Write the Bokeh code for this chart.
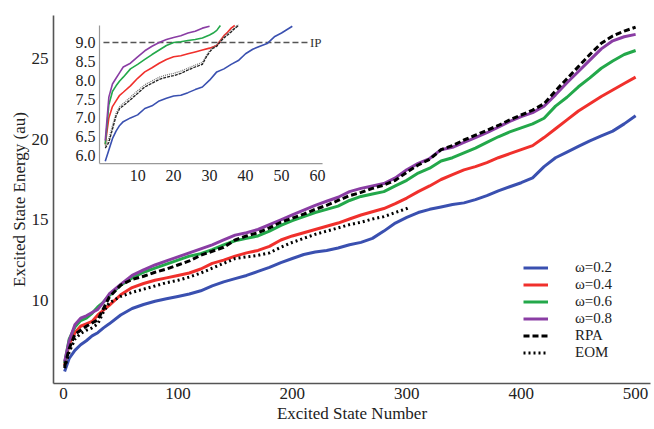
from bokeh.plotting import figure
from bokeh.models import Range1d, FixedTicker, Legend, LegendItem
from bokeh.core.properties import value
from bokeh.embed import file_html
from bokeh.resources import INLINE

# ---------------- main panel data ----------------
state = [1, 5, 10, 15, 20, 25, 30, 35, 40, 50, 60, 70, 80, 90, 100, 110, 120, 130, 140,
         150, 160, 170, 180, 190, 200, 210, 220, 230, 240, 250, 260, 270, 280, 290, 300,
         310, 320, 330, 340, 350, 360, 370, 380, 390, 400, 410, 420, 430, 440, 450, 460,
         470, 480, 490, 500]
w02 = [5.6, 6.4, 6.9, 7.25, 7.5, 7.8, 8.0, 8.3, 8.55, 9.1, 9.5, 9.75, 9.95, 10.1, 10.25,
       10.4, 10.6, 10.9, 11.15, 11.35, 11.55, 11.8, 12.05, 12.35, 12.6, 12.85, 13.0, 13.1,
       13.25, 13.45, 13.6, 13.85, 14.3, 14.8, 15.15, 15.45, 15.65, 15.8, 15.95, 16.05, 16.25,
       16.5, 16.8, 17.05, 17.3, 17.6, 18.3, 18.85, 19.2, 19.55, 19.9, 20.2, 20.5, 20.95, 21.45]
w04 = [6.0, 7.3, 8.0, 8.4, 8.55, 8.7, 9.1, 9.4, 9.7, 10.35, 10.8, 11.05, 11.25, 11.4, 11.55,
       11.7, 11.95, 12.3, 12.5, 12.75, 12.95, 13.1, 13.35, 13.75, 14.0, 14.2, 14.4, 14.6,
       14.8, 15.05, 15.3, 15.5, 15.7, 16.0, 16.35, 16.75, 17.1, 17.5, 17.8, 18.1, 18.3,
       18.55, 18.85, 19.1, 19.35, 19.6, 20.1, 20.65, 21.2, 21.75, 22.2, 22.65, 23.05, 23.45, 23.85]
w06 = [6.1, 7.6, 8.35, 8.75, 8.9, 9.2, 9.6, 9.9, 10.3, 10.95, 11.4, 11.75, 12.0, 12.25, 12.5,
       12.75, 12.9, 13.15, 13.45, 13.7, 13.85, 14.0, 14.3, 14.65, 14.95, 15.2, 15.45, 15.65,
       15.85, 16.2, 16.45, 16.6, 16.75, 17.1, 17.45, 17.9, 18.2, 18.65, 18.85, 19.15, 19.45,
       19.8, 20.15, 20.45, 20.7, 20.95, 21.3, 22.05, 22.6, 23.25, 23.8, 24.4, 24.85, 25.25, 25.5]
w08 = [6.2, 7.5, 8.5, 8.9, 9.05, 9.25, 9.45, 9.9, 10.4, 11.0, 11.55, 11.9, 12.2, 12.45, 12.7,
       12.95, 13.2, 13.45, 13.75, 14.05, 14.2, 14.4, 14.7, 15.0, 15.3, 15.6, 15.9, 16.15,
       16.4, 16.75, 16.95, 17.1, 17.25, 17.6, 18.1, 18.5, 18.8, 19.35, 19.5, 19.8, 20.1,
       20.4, 20.75, 21.1, 21.4, 21.65, 22.05, 22.75, 23.5, 24.2, 24.9, 25.6, 26.1, 26.35, 26.5]
rpa = [5.9, 7.0, 7.9, 8.15, 8.4, 8.6, 8.8, 9.5, 10.2, 10.95, 11.3, 11.5, 11.75, 11.95, 12.2,
       12.45, 12.8, 13.05, 13.3, 13.75, 14.0, 14.2, 14.5, 14.85, 15.1, 15.35, 15.65, 15.9,
       16.2, 16.5, 16.7, 16.95, 17.15, 17.45, 17.95, 18.4, 18.75, 19.35, 19.6, 19.95, 20.25,
       20.55, 20.85, 21.2, 21.5, 21.8, 22.2, 23.0, 23.75, 24.5, 25.25, 25.95, 26.4, 26.7, 26.95]
eom_state = [1, 5, 10, 15, 20, 25, 30, 35, 40, 50, 60, 70, 80, 90, 100, 110, 120, 130, 140,
             150, 160, 170, 180, 190, 200, 210, 220, 230, 240, 250, 260, 270, 280, 290, 300, 303]
eom = [5.8, 6.8, 7.6, 7.95, 8.15, 8.3, 8.55, 9.3, 9.85, 10.25, 10.5, 10.7, 10.9, 11.1, 11.25,
       11.45, 11.7, 12.0, 12.3, 12.6, 12.7, 12.8, 12.95, 13.3, 13.6, 13.85, 14.1, 14.3, 14.5,
       14.7, 14.85, 15.05, 15.2, 15.45, 15.7, 15.8]

x_ticks = [0, 100, 200, 300, 400, 500]
y_ticks = [10, 15, 20, 25]

# ---------------- inset data ----------------
in_b_x = [1, 2, 3, 4, 5, 6, 8, 10, 12, 14, 16, 18, 20, 22, 24, 26, 28, 30, 32, 34, 36, 38,
          40, 42, 44, 46, 48, 50, 52, 53]
in_b_y = [5.85, 6.15, 6.45, 6.65, 6.8, 6.9, 7.0, 7.08, 7.25, 7.32, 7.45, 7.52, 7.58, 7.6,
          7.67, 7.75, 7.82, 8.0, 8.22, 8.3, 8.42, 8.52, 8.7, 8.82, 8.9, 8.97, 9.15, 9.25, 9.37, 9.43]
in_r_x = [1, 2, 3, 4, 5, 6, 8, 10, 12, 14, 16, 18, 20, 22, 24, 26, 28, 30, 32, 33, 34, 35, 36, 37]
in_r_y = [6.3, 7.0, 7.3, 7.45, 7.6, 7.68, 7.85, 8.05, 8.22, 8.33, 8.45, 8.55, 8.62, 8.65,
          8.7, 8.75, 8.8, 8.85, 8.92, 9.05, 9.18, 9.27, 9.38, 9.45]
in_g_x = [1, 2, 3, 4, 5, 6, 8, 10, 12, 14, 16, 18, 20, 22, 24, 26, 28, 30, 31, 32, 33]
in_g_y = [6.3, 7.35, 7.7, 7.85, 7.98, 8.08, 8.3, 8.42, 8.55, 8.68, 8.8, 8.92, 9.0, 9.02,
          9.05, 9.08, 9.12, 9.2, 9.25, 9.32, 9.45]
in_p_x = [1, 2, 3, 4, 5, 6, 8, 10, 12, 14, 16, 18, 20, 22, 24, 26, 28, 30]
in_p_y = [6.4, 7.55, 7.9, 8.05, 8.2, 8.35, 8.45, 8.62, 8.78, 8.9, 9.0, 9.08, 9.13, 9.18,
          9.25, 9.3, 9.38, 9.43]
in_rpa_x = [1, 2, 3, 4, 5, 6, 8, 10, 12, 14, 16, 18, 20, 22, 24, 26, 28, 29, 30, 31, 32,
            33, 34, 35, 36, 37, 38]
in_rpa_y = [6.2, 6.35, 6.7, 7.05, 7.25, 7.32, 7.48, 7.65, 7.82, 7.92, 8.02, 8.08, 8.12,
            8.18, 8.27, 8.35, 8.42, 8.6, 8.75, 8.85, 8.9, 9.02, 9.12, 9.2, 9.28, 9.37, 9.45]
in_eom_x = [1, 2, 3, 4, 5, 6, 8, 10, 12, 14, 16, 18, 20, 22, 24, 26, 28, 29, 30, 31, 32,
            33, 34, 35, 36, 37, 38]
in_eom_y = [6.25, 6.45, 6.8, 7.12, 7.3, 7.38, 7.55, 7.72, 7.88, 7.98, 8.08, 8.14, 8.18,
            8.24, 8.32, 8.4, 8.47, 8.63, 8.78, 8.88, 8.94, 9.05, 9.15, 9.24, 9.31, 9.4, 9.47]
in_x_ticks = [10, 20, 30, 40, 50, 60]
in_y_ticks = [6.0, 6.5, 7.0, 7.5, 8.0, 8.5, 9.0]
ip_level = 9.0
ip_x = [0.5, 57.3]

BLUE, RED, GREEN, PURPLE = "#3a50b0", "#f0302c", "#23a84a", "#8a3da4"
SERIF = "Liberation Serif"

p = figure(width=654, height=429, output_backend="svg", toolbar_location=None,
           x_range=Range1d(-8.7, 513), y_range=Range1d(4.85, 27.67),
           min_border_left=53, min_border_right=4, min_border_top=15, min_border_bottom=46)
p.outline_line_color = None
p.grid.visible = False
p.background_fill_color = "white"

for ax in (p.xaxis[0], p.yaxis[0]):
    ax.axis_line_color = "#555555"
    ax.axis_line_width = 1.6
    ax.major_tick_line_color = None
    ax.minor_tick_line_color = None
    ax.major_tick_out = 0
    ax.major_tick_in = 0
    ax.minor_tick_out = 0
    ax.minor_tick_in = 0
    ax.major_label_text_font = SERIF
    ax.major_label_text_font_size = "17px"
    ax.major_label_text_color = "#222222"
    ax.axis_label_text_font = SERIF
    ax.axis_label_text_font_size = "17px"
    ax.axis_label_text_font_style = "normal"
    ax.axis_label_text_color = "#222222"

p.xaxis[0].ticker = FixedTicker(ticks=x_ticks)
p.yaxis[0].ticker = FixedTicker(ticks=y_ticks)
p.xaxis[0].axis_label = "Excited State Number"
p.yaxis[0].axis_label = "Excited State Energy (au)"
p.xaxis[0].major_label_standoff = 4
p.yaxis[0].major_label_standoff = 5
p.xaxis[0].axis_label_standoff = 2
p.yaxis[0].axis_label_standoff = 0

rb = p.line(state, w02, line_color=BLUE, line_width=3, line_join="round")
rr = p.line(state, w04, line_color=RED, line_width=3, line_join="round")
rg = p.line(state, w06, line_color=GREEN, line_width=3, line_join="round")
rp = p.line(state, w08, line_color=PURPLE, line_width=3, line_join="round")
rrpa = p.line(state, rpa, line_color="black", line_width=3, line_dash="6 3")
reom = p.line(eom_state, eom, line_color="black", line_width=3, line_dash="2 3")

legend = Legend(items=[LegendItem(label="ω=0.2", renderers=[rb]),
                       LegendItem(label="ω=0.4", renderers=[rr]),
                       LegendItem(label="ω=0.6", renderers=[rg]),
                       LegendItem(label="ω=0.8", renderers=[rp]),
                       LegendItem(label="RPA", renderers=[rrpa]),
                       LegendItem(label="EOM", renderers=[reom])],
                location=(470, 22), border_line_color=None, background_fill_alpha=0,
                padding=0, margin=0, spacing=-1, glyph_width=25, glyph_height=15,
                label_height=15, label_standoff=27, label_text_font=SERIF,
                label_text_font_size="15px", label_text_color="#222222")
p.add_layout(legend)

# ---------------- inset ----------------
ix = Range1d(-0.6, 61.4)
iy = Range1d(5.79, 9.45)
ins = p.subplot(x_source=ix, y_source=iy,
                x_target=Range1d(31.5, 226.4), y_target=Range1d(18.49, 27.05))

ins.segment(x0=[ix.start, ix.start], y0=[iy.start, iy.start],
            x1=[ix.start, ix.end], y1=[iy.end, iy.start],
            line_color="#999999", line_width=1.2)
ins.line(ip_x, [ip_level, ip_level], line_color="#555555", line_width=1.5, line_dash="6 3")
ins.text(x=[ip_x[1] + 0.6], y=[ip_level], text=["IP"], text_font=value(SERIF),
         text_font_size="13px", text_baseline="middle", text_align="left", text_color="#333333")

ins.line(in_b_x, in_b_y, line_color=BLUE, line_width=1.6)
ins.line(in_r_x, in_r_y, line_color=RED, line_width=1.6)
ins.line(in_g_x, in_g_y, line_color=GREEN, line_width=1.6)
ins.line(in_p_x, in_p_y, line_color=PURPLE, line_width=1.6)
ins.line(in_eom_x, in_eom_y, line_color="#777777", line_width=1.3, line_dash="1 1")
ins.line(in_rpa_x, in_rpa_y, line_color="#222222", line_width=1.3, line_dash="3 1")

ins.text(x=in_x_ticks, y=[iy.start] * len(in_x_ticks), text=[str(t) for t in in_x_ticks],
         text_font=value(SERIF), text_font_size="16px", text_align="center",
         text_baseline="top", y_offset=6, text_color="#222222")
ins.text(x=[ix.start] * len(in_y_ticks), y=in_y_ticks, text=["%.1f" % t for t in in_y_ticks],
         text_font=value(SERIF), text_font_size="16px", text_align="right",
         text_baseline="middle", x_offset=-4, text_color="#222222")

open("out.html", "w").write(file_html(p, INLINE))
